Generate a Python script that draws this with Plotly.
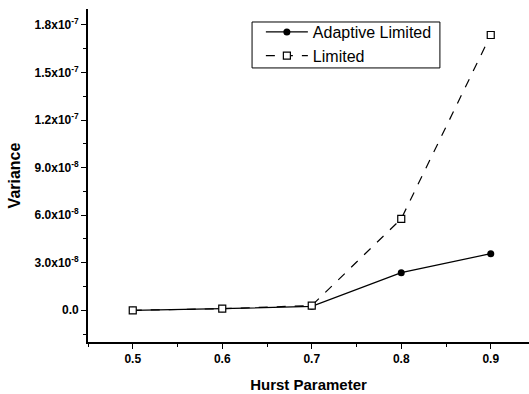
import plotly.graph_objects as go

hurst = [0.5, 0.6, 0.7, 0.8, 0.9]
adaptive_limited = [0.0, 1.0e-9, 2.5e-9, 2.37e-8, 3.57e-8]
limited = [0.0, 1.0e-9, 3.0e-9, 5.77e-8, 1.736e-7]

x_ticks = [0.5, 0.6, 0.7, 0.8, 0.9]
x_labels = ["0.5", "0.6", "0.7", "0.8", "0.9"]
y_ticks = [0.0, 3.0e-8, 6.0e-8, 9.0e-8, 1.2e-7, 1.5e-7, 1.8e-7]
y_labels = ["0.0", "3.0x10<sup>-8</sup>", "6.0x10<sup>-8</sup>", "9.0x10<sup>-8</sup>",
            "1.2x10<sup>-7</sup>", "1.5x10<sup>-7</sup>", "1.8x10<sup>-7</sup>"]

fig = go.Figure()
fig.add_trace(go.Scatter(
    x=hurst, y=adaptive_limited, name="Adaptive Limited", mode="lines+markers",
    line=dict(color="black", width=1.3),
    marker=dict(symbol="circle", size=7, color="black"),
))
fig.add_trace(go.Scatter(
    x=hurst, y=limited, name="Limited", mode="lines+markers",
    line=dict(color="black", width=1.2, dash="dash"),
    marker=dict(symbol="square", size=7, color="white", line=dict(width=1.2, color="black")),
))

font_family = "Liberation Sans, Arial, sans-serif"
fig.update_layout(
    width=529, height=394,
    margin=dict(l=88, r=0, t=9, b=52),
    plot_bgcolor="white", paper_bgcolor="white",
    font=dict(family=font_family, color="black"),
    showlegend=True,
    legend=dict(
        x=0.392, y=0.982, xanchor="left", yanchor="top",
        borderwidth=0, bgcolor="rgba(0,0,0,0)",
        font=dict(size=16, family=font_family),
        itemwidth=42,
        tracegroupgap=0,
    ),
    shapes=[dict(
        type="rect", xref="paper", yref="paper",
        x0=0.372, x1=0.798, y0=0.823, y1=0.961,
        line=dict(color="black", width=1), fillcolor="white", layer="above",
    )],
    xaxis=dict(
        range=[0.45, 0.45 + 441 / 895],
        tickvals=x_ticks, ticktext=x_labels,
        ticks="outside", ticklen=5, tickwidth=1.3, tickcolor="black",
        minor=dict(dtick=0.05, tick0=0.45, ticks="outside", ticklen=3, tickwidth=1, tickcolor="black"),
        showline=True, linecolor="black", linewidth=1.8,
        showgrid=False, zeroline=False,
        tickfont=dict(size=12, family="Liberation Sans, Arial", weight="bold"),
        title=dict(text="<b>Hurst Parameter</b>", font=dict(size=15), standoff=14),
    ),
    yaxis=dict(
        range=[-2.0e-8, 1.9e-7],
        tickvals=y_ticks, ticktext=y_labels,
        ticks="outside", ticklen=5, tickwidth=1.3, tickcolor="black",
        minor=dict(dtick=1.5e-8, tick0=0, ticks="outside", ticklen=3, tickwidth=1, tickcolor="black"),
        showline=True, linecolor="black", linewidth=1.8,
        showgrid=False, zeroline=False,
        tickfont=dict(size=12, family="Liberation Sans, Arial", weight="bold"),
        title=dict(text="<b>Variance</b>", font=dict(size=16), standoff=10),
    ),
)

fig.write_html("out.html")
